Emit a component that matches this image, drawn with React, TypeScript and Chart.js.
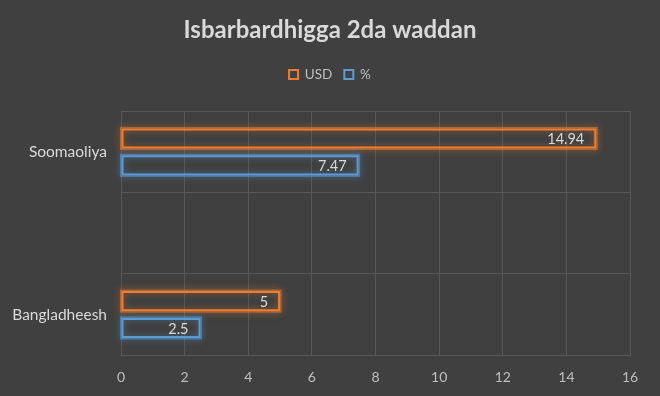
import React, { useEffect, useRef } from "react";
import { Chart, registerables } from "chart.js";

Chart.register(...registerables);

const TITLE = "Isbarbardhigga 2da waddan";
const categories = ["Soomaoliya", "", "Bangladheesh"];
const usdValues = [14.94, null, 5];
const pctValues = [7.47, null, 2.5];
const seriesNames = ["USD", "%"];
const xMin = 0;
const xMax = 16;
const xStep = 2;

const ORANGE = "#ED7D31";
const BLUE = "#5B9BD5";
const BG = "#404040";
const GRID = "#575757";
const TEXT = "#D9D9D9";
const FONT = "Lato, 'Open Sans', sans-serif";

const bgPlugin = {
  id: "bgFill",
  beforeDraw(chart: any) {
    const ctx = chart.ctx;
    ctx.save();
    ctx.fillStyle = BG;
    ctx.fillRect(0, 0, chart.width, chart.height);
    ctx.restore();
  },
};

const glowPlugin = {
  id: "glow",
  beforeDatasetsDraw(chart: any) {
    const ctx = chart.ctx;
    chart.data.datasets.forEach((ds: any, i: number) => {
      const meta = chart.getDatasetMeta(i);
      meta.data.forEach((el: any, j: number) => {
        if (ds.data[j] == null) return;
        const p = el.getProps(["x", "y", "base", "height"], true);
        const left = Math.min(p.base, p.x);
        const w = Math.abs(p.x - p.base);
        ctx.save();
        ctx.shadowColor = ds.borderColor;
        ctx.shadowBlur = 7;
        ctx.globalAlpha = 0.55;
        ctx.strokeStyle = ds.borderColor;
        ctx.lineWidth = 3;
        ctx.strokeRect(left, p.y - p.height / 2, w, p.height);
        ctx.restore();
      });
    });
  },
};

const labelPlugin = {
  id: "valueLabels",
  afterDatasetsDraw(chart: any) {
    const ctx = chart.ctx;
    chart.data.datasets.forEach((ds: any, i: number) => {
      const meta = chart.getDatasetMeta(i);
      meta.data.forEach((el: any, j: number) => {
        const v = ds.data[j];
        if (v == null) return;
        const p = el.getProps(["x", "y"], true);
        ctx.save();
        ctx.font = `14.5px ${FONT}`;
        ctx.fillStyle = TEXT;
        ctx.textAlign = "right";
        ctx.textBaseline = "middle";
        ctx.fillText(String(v), p.x - 12, p.y + 1);
        ctx.restore();
      });
    });
  },
};

const legendSpacePlugin = {
  id: "legendSpace",
  beforeInit(chart: any) {
    const lg = chart.legend;
    if (!lg) return;
    const orig = lg.fit;
    lg.fit = function () {
      orig.call(this);
      this.height += 20;
    };
  },
};

export default function App() {
  const ref = useRef<HTMLCanvasElement>(null);
  useEffect(() => {
    document.body.style.margin = "0";
    const chart = new Chart(ref.current as HTMLCanvasElement, {
      type: "bar",
      data: {
        labels: categories,
        datasets: [
          {
            label: seriesNames[0],
            data: usdValues,
            borderColor: ORANGE,
            backgroundColor: "rgba(64,64,64,0)",
            borderWidth: 2,
            borderSkipped: false,
            categoryPercentage: 0.66,
            barPercentage: 0.75,
          },
          {
            label: seriesNames[1],
            data: pctValues,
            borderColor: BLUE,
            backgroundColor: "rgba(64,64,64,0)",
            borderWidth: 2,
            borderSkipped: false,
            categoryPercentage: 0.66,
            barPercentage: 0.75,
          },
        ],
      },
      options: {
        indexAxis: "y",
        animation: false,
        responsive: false,
        maintainAspectRatio: false,
        layout: { padding: { top: 0, right: 0, bottom: -4, left: 0 } },
        plugins: {
          title: {
            display: true,
            text: TITLE,
            color: TEXT,
            font: { family: FONT, size: 24, weight: "bold" },
            padding: { top: 16, bottom: 11 },
          },
          legend: {
            display: true,
            position: "top",
            labels: {
              color: "#BFBFBF",
              font: { family: FONT, size: 13.5 },
              boxWidth: 9,
              boxHeight: 9,
              padding: 12,
            },
          },
          tooltip: { enabled: false },
        },
        scales: {
          x: {
            type: "linear",
            min: xMin,
            max: xMax,
            ticks: {
              stepSize: xStep,
              color: "#BFBFBF",
              font: { family: FONT, size: 14 },
              padding: 14,
            },
            grid: { color: GRID, drawTicks: false, lineWidth: 1 },
            border: { display: false },
          },
          y: {
            type: "category",
            ticks: {
              color: TEXT,
              font: { family: FONT, size: 15.5 },
              padding: 14,
            },
            grid: { color: GRID, drawTicks: false, offset: true },
            border: { display: false },
            afterFit(scale: any) {
              scale.width = 121;
            },
          },
          yRight: {
            type: "category",
            position: "right",
            display: true,
            ticks: { display: false },
            grid: { display: false, drawTicks: false },
            border: { display: false },
            afterFit(scale: any) {
              scale.width = 30;
            },
          },
        },
      },
      plugins: [bgPlugin, glowPlugin, labelPlugin, legendSpacePlugin],
    } as any);
    return () => chart.destroy();
  }, []);
  return (
    <div style={{ position: "absolute", left: 0, top: 0, width: 660, height: 396 }}>
      <canvas ref={ref} width={660} height={396} />
    </div>
  );
}
